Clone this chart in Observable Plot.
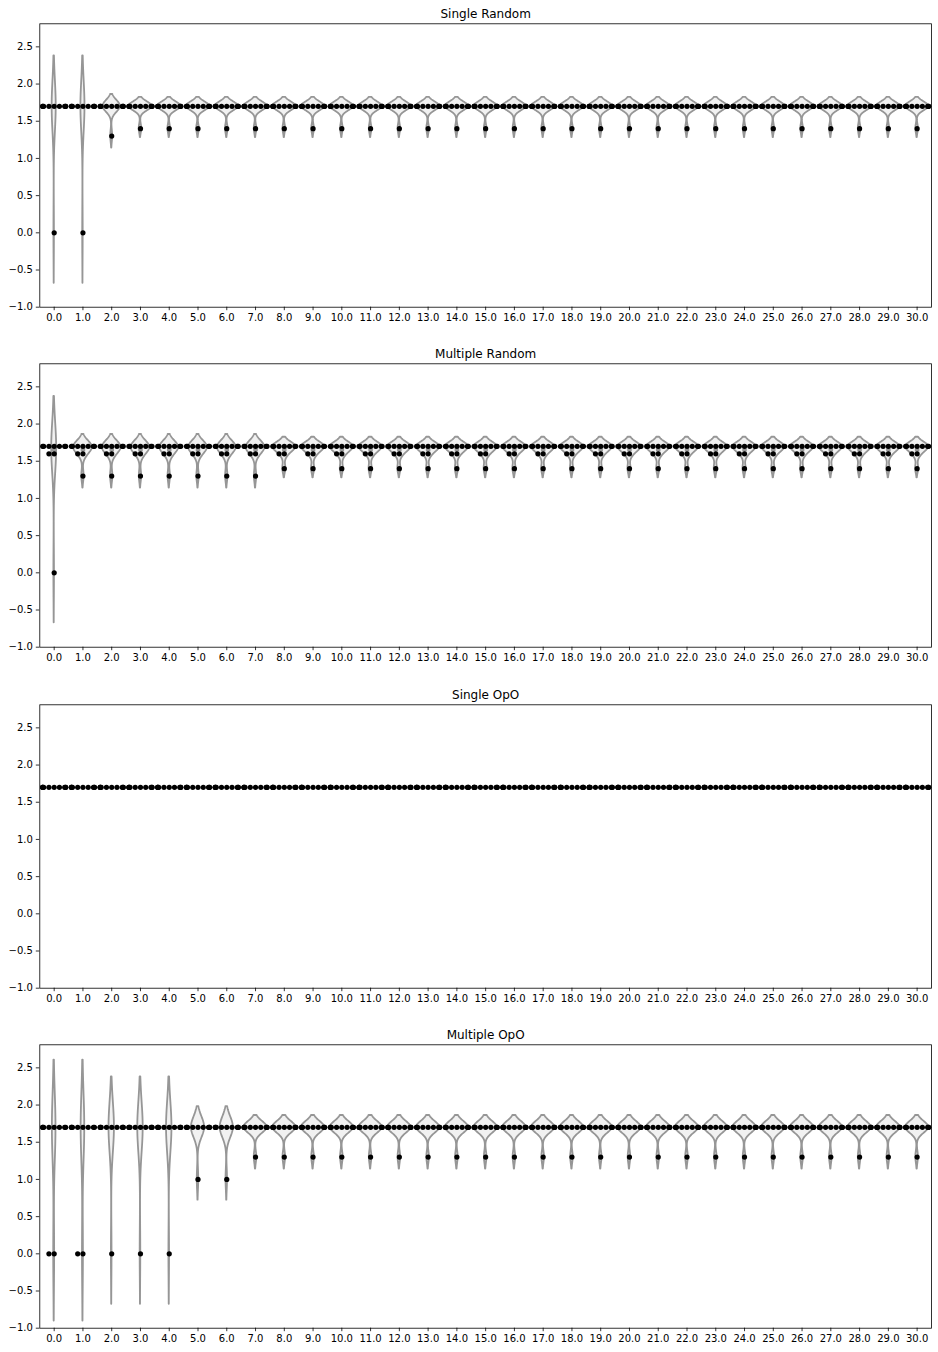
<!DOCTYPE html>
<html>
<head>
<meta charset="utf-8">
<script src="https://cdn.jsdelivr.net/npm/d3@7"></script>
<script src="https://cdn.jsdelivr.net/npm/@observablehq/plot@0.6"></script>
<style>
  body { margin: 0; background: #ffffff; }
  #chart { position: relative; width: 938px; height: 1352px; background: #ffffff; }
  #chart svg { position: absolute; left: 0; }
</style>
</head>
<body>
<div id="chart"></div>
<script>
// ---------------- data ----------------
const categories = [0,1,2,3,4,5,6,7,8,9,10,11,12,13,14,15,16,17,18,19,20,21,22,23,24,25,26,27,28,29,30];
const panelTitles = ["Single Random", "Multiple Random", "Single OpO", "Multiple OpO"];
const yTicks = [-1.0, -0.5, 0.0, 0.5, 1.0, 1.5, 2.0, 2.5];
const commonValue = 1.7;      // value taken by most of the runs
const runsPerCategory = 10;   // runs per category (rest of the runs = commonValue)

// values that differ from commonValue, per category
const singleRandomOther = [
  [0.0],[0.0],[1.3],[1.4],[1.4],[1.4],[1.4],[1.4],[1.4],[1.4],
  [1.4],[1.4],[1.4],[1.4],[1.4],[1.4],[1.4],[1.4],[1.4],[1.4],
  [1.4],[1.4],[1.4],[1.4],[1.4],[1.4],[1.4],[1.4],[1.4],[1.4],[1.4]
];
const multipleRandomOther = [
  [0.0,1.6,1.6],[1.3,1.6,1.6],[1.3,1.6,1.6],[1.3,1.6,1.6],[1.3,1.6,1.6],[1.3,1.6,1.6],[1.3,1.6,1.6],[1.3,1.6,1.6],
  [1.4,1.6,1.6],[1.4,1.6,1.6],[1.4,1.6,1.6],[1.4,1.6,1.6],[1.4,1.6,1.6],[1.4,1.6,1.6],[1.4,1.6,1.6],[1.4,1.6,1.6],
  [1.4,1.6,1.6],[1.4,1.6,1.6],[1.4,1.6,1.6],[1.4,1.6,1.6],[1.4,1.6,1.6],[1.4,1.6,1.6],[1.4,1.6,1.6],[1.4,1.6,1.6],
  [1.4,1.6,1.6],[1.4,1.6,1.6],[1.4,1.6,1.6],[1.4,1.6,1.6],[1.4,1.6,1.6],[1.4,1.6,1.6],[1.4,1.6,1.6]
];
const singleOpOOther = [
  [],[],[],[],[],[],[],[],[],[],[],[],[],[],[],[],
  [],[],[],[],[],[],[],[],[],[],[],[],[],[],[]
];
const multipleOpOOther = [
  [0.0,0.0],[0.0,0.0],[0.0],[0.0],[0.0],[1.0],[1.0],[1.3],[1.3],[1.3],
  [1.3],[1.3],[1.3],[1.3],[1.3],[1.3],[1.3],[1.3],[1.3],[1.3],
  [1.3],[1.3],[1.3],[1.3],[1.3],[1.3],[1.3],[1.3],[1.3],[1.3],[1.3]
];
const panelOther = [singleRandomOther, multipleRandomOther, singleOpOOther, multipleOpOOther];

// ---------------- layout ----------------
const W = 938, H = 340, panelStep = 340.33;
const mL = 39.3, mR = 7, mT = 23.3, mB = 33.3;
const xDomain = [-0.5, 30.5], yDomain = [-1.0, 2.81];
const dotR = 2.6, halfWidth = 0.4;
const pxPerX = (W - mL - mR) / (xDomain[1] - xDomain[0]);
const pxPerY = (H - mT - mB) / (yDomain[1] - yDomain[0]);

function valuesFor(other) {
  return other.concat(Array(runsPerCategory - other.length).fill(commonValue));
}

// gaussian KDE (Scott bandwidth, cut = 2, 100 grid points)
function kde(vals) {
  const n = vals.length, sd = d3.deviation(vals);
  if (!(sd > 1e-12)) return null;
  const bw = sd * Math.pow(n, -0.2);
  const lo = d3.min(vals) - 2 * bw, hi = d3.max(vals) + 2 * bw;
  const out = [];
  for (let i = 0; i < 100; i++) {
    const y = lo + (hi - lo) * i / 99;
    let s = 0;
    for (const v of vals) { const z = (y - v) / bw; s += Math.exp(-0.5 * z * z); }
    out.push({ y, d: s / (n * bw * Math.sqrt(2 * Math.PI)) });
  }
  return out;
}

// seaborn-like beeswarm in pixel space, with gutters
function swarm(vals, center) {
  const pts = vals.map(v => ({ v, y: v * pxPerY })).sort((a, b) => a.y - b.y);
  const placed = [];
  const sep = 5;
  for (const p of pts) {
    if (!placed.length) { placed.push({ x: 0, y: p.y, v: p.v }); continue; }
    const nb = [];
    for (let j = placed.length - 1; j >= 0; j--) {
      if (p.y - placed[j].y < sep) nb.unshift(placed[j]); else break;
    }
    let cands = [0];
    let leftFirst = true;
    for (const q of nb) {
      const dy = p.y - q.y;
      const dx = Math.sqrt(Math.max(sep * sep - dy * dy, 0)) * 1.05;
      if (leftFirst) cands.push(q.x - dx, q.x + dx); else cands.push(q.x + dx, q.x - dx);
      leftFirst = !leftFirst;
    }
    cands = cands.map((x, i) => ({ x, i })).sort((a, b) => (Math.abs(a.x) - Math.abs(b.x)) || (a.i - b.i));
    let chosen = cands[0].x;
    for (const c of cands) {
      if (nb.every(q => (q.x - c.x) ** 2 + (q.y - p.y) ** 2 >= sep * sep - 1e-9)) { chosen = c.x; break; }
    }
    placed.push({ x: chosen, y: p.y, v: p.v });
  }
  return placed.map(p => ({
    cat: center, v: p.v,
    x: center + Math.max(-halfWidth, Math.min(halfWidth, p.x / pxPerX))
  }));
}

const fmt = d => d.toFixed(1).replace("-", "\u2212");
const chart = document.getElementById("chart");

panelTitles.forEach((title, pi) => {
  const other = panelOther[pi];
  const groups = categories.map((c, i) => ({ cat: c, vals: valuesFor(other[i]) }));

  // violins
  const dens = groups.map(g => ({ cat: g.cat, k: kde(g.vals) }));
  const maxD = d3.max(dens, g => g.k ? d3.max(g.k, r => r.d) : 0) || 1;
  const violinRows = [];
  for (const g of dens) {
    if (!g.k) continue;
    for (const r of g.k) {
      const w = r.d / maxD * halfWidth;
      violinRows.push({ cat: g.cat, y: r.y, x1: g.cat - w, x2: g.cat + w });
    }
  }

  // inner box (quartiles + whiskers)
  const boxRows = [], whiskerRows = [];
  for (const g of groups) {
    const s = g.vals.slice().sort(d3.ascending);
    const q1 = d3.quantile(s, 0.25), q3 = d3.quantile(s, 0.75);
    const lim = 1.5 * (q3 - q1);
    const h1 = d3.min(s.filter(v => v >= q1 - lim)), h2 = d3.max(s.filter(v => v <= q3 + lim));
    if (q3 > q1) boxRows.push({ cat: g.cat, y1: q1, y2: q3 });
    if (h2 > h1) whiskerRows.push({ cat: g.cat, y1: h1, y2: h2 });
  }

  // swarm points
  const dots = groups.flatMap(g => swarm(g.vals, g.cat));

  const svg = Plot.plot({
    width: W, height: H,
    marginLeft: mL, marginRight: mR, marginTop: mT, marginBottom: mB,
    style: { fontFamily: "DejaVu Sans", fontSize: "10px", color: "black", background: "white", overflow: "visible" },
    x: { type: "linear", domain: xDomain },
    y: { type: "linear", domain: yDomain },
    marks: [
      Plot.areaX(violinRows, { y: "y", x1: "x1", x2: "x2", z: "cat", curve: "linear",
        fill: "#f1f1f1", stroke: "#969696", strokeWidth: 1.8, strokeLinejoin: "round" }),
      Plot.ruleX(whiskerRows, { x: "cat", y1: "y1", y2: "y2", stroke: "#969696", strokeWidth: 1.5 }),
      Plot.ruleX(boxRows, { x: "cat", y1: "y1", y2: "y2", stroke: "#969696", strokeWidth: 4.5 }),
      Plot.dot(dots, { x: "x", y: "v", r: dotR, fill: "black", stroke: null }),
      Plot.frame({ stroke: "black", strokeWidth: 0.8 }),
      Plot.axisX({ ticks: categories, tickFormat: d => d.toFixed(1), tickSize: 3.5, tickPadding: 3.5,
        strokeWidth: 0.8, label: null, fontSize: 10 }),
      Plot.axisY({ ticks: yTicks, tickFormat: fmt, tickSize: 3.5, tickPadding: 3.5,
        strokeWidth: 0.8, label: null, fontSize: 10 }),
      Plot.text([title], { text: d => d, frameAnchor: "top", dy: -6, lineAnchor: "bottom",
        fontSize: 12, fill: "black" })
    ]
  });
  svg.style.top = (pi * panelStep) + "px";
  chart.appendChild(svg);
});
</script>
</body>
</html>
